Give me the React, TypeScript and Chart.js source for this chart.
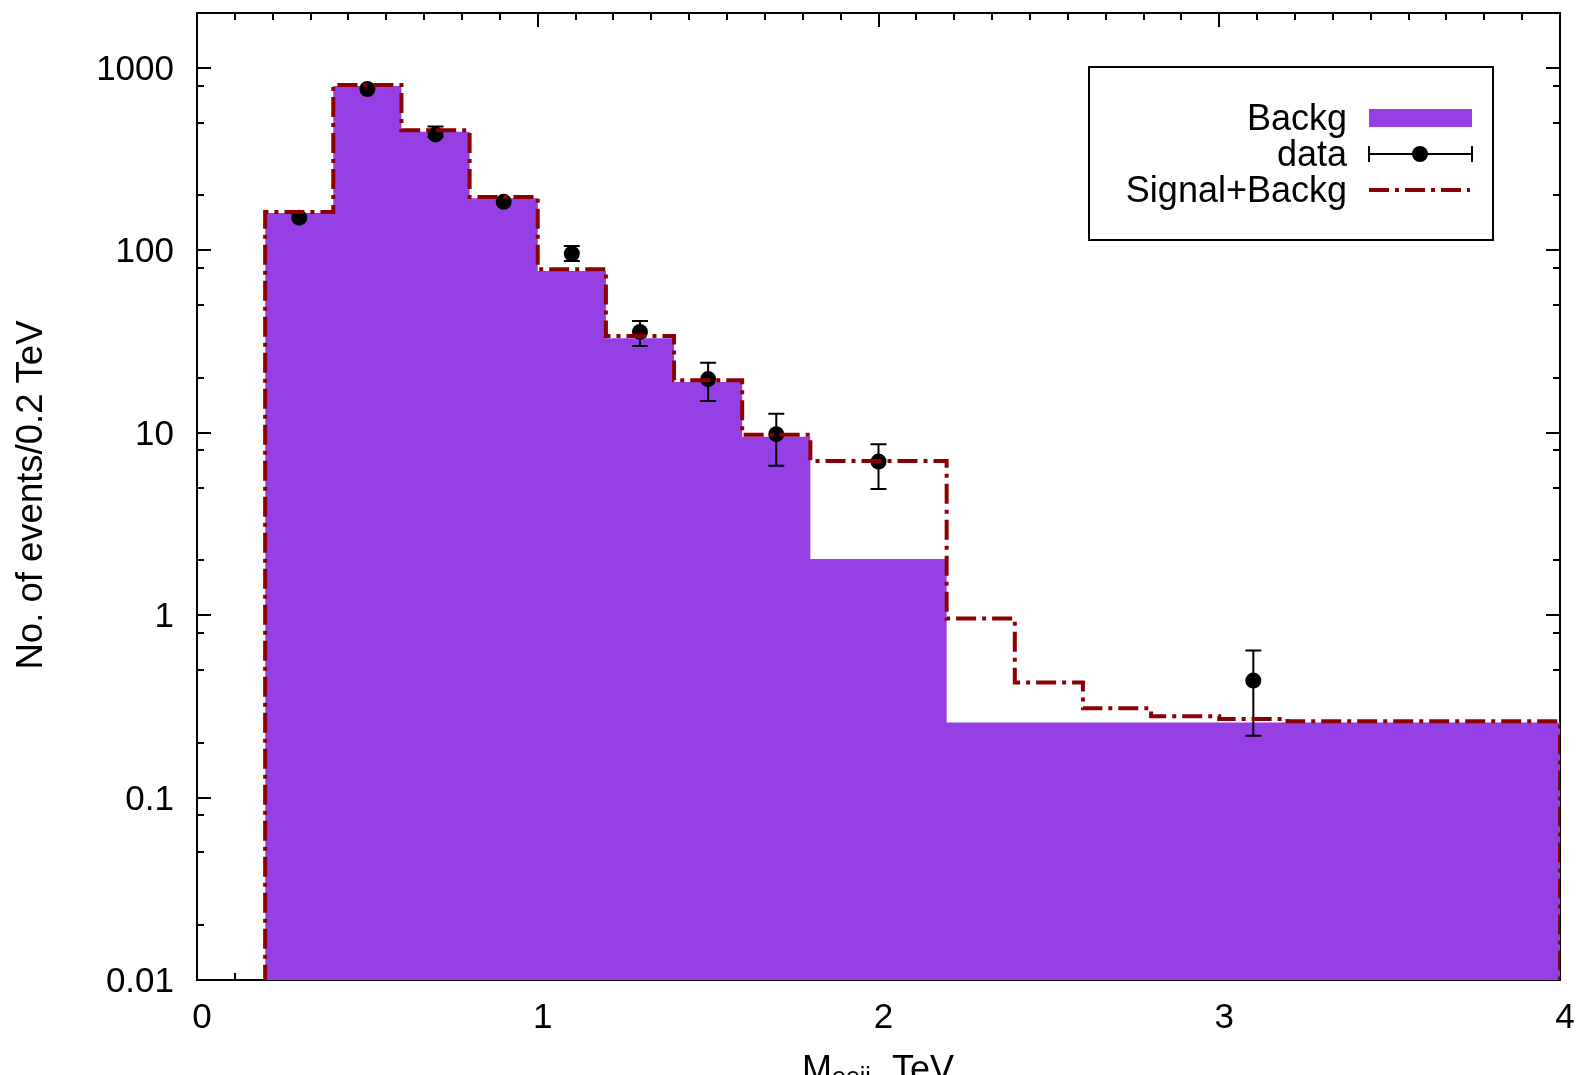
import React, { useEffect, useRef } from "react";
import { Chart, registerables } from "chart.js";

Chart.register(...registerables);

// ---- data ----
const backgEdges = [0.2, 0.4, 0.6, 0.8, 1.0, 1.2, 1.4, 1.6, 1.8, 2.2, 4.0];
const backgValues = [160, 795, 447, 193, 77, 33, 19, 9.5, 2.03, 0.258];

const signalEdges = [0.2, 0.4, 0.6, 0.8, 1.0, 1.2, 1.4, 1.6, 1.8, 2.2, 2.4, 2.6, 2.8, 3.0, 3.2, 4.0];
const signalValues = [162, 805, 455, 196, 78.7, 33.9, 19.4, 9.74, 7.0, 0.96, 0.428, 0.309, 0.279, 0.27, 0.262];

const dataX = [0.3, 0.5, 0.7, 0.9, 1.1, 1.3, 1.5, 1.7, 2.0, 3.1];
const dataY = [151, 766, 432, 184.5, 95.8, 35.7, 19.7, 9.82, 6.95, 0.438];
const dataLow = [151, 766, 420, 184.5, 87.3, 29.9, 14.95, 6.59, 4.91, 0.218];
const dataHigh = [151, 766, 478, 184.5, 105.6, 41, 24.2, 12.7, 8.66, 0.641];

const xTickValues = [0, 1, 2, 3, 4];
const xTickLabels = ["0", "1", "2", "3", "4"];
const yTickValues = [1000, 100, 10, 1, 0.1, 0.01];
const yTickLabels = ["1000", "100", "10", "1", "0.1", "0.01"];
const yMinorFactors = [2, 5, 8];

const legendLabels = ["Backg", "data", "Signal+Backg"];
const yTitle = "No. of events/0.2 TeV";

// ---- styles ----
const PURPLE = "rgb(148,64,229)";
const DARKRED = "#8b0000";
const DASH = [20, 6, 4, 6];
const FONT = "Liberation Sans, Arial, sans-serif";

function stepPoints(edges: number[], values: number[], closeToBottom: boolean) {
  const pts: { x: number; y: number }[] = [];
  if (closeToBottom) pts.push({ x: edges[0], y: 1e-4 });
  values.forEach((v, i) => pts.push({ x: edges[i], y: v }));
  pts.push({ x: edges[edges.length - 1], y: values[values.length - 1] });
  if (closeToBottom) pts.push({ x: edges[edges.length - 1], y: 1e-4 });
  return pts;
}

const decorPlugin = {
  id: "decor",
  beforeDatasetsDraw(chart: any) {
    const { ctx, chartArea: a, scales } = chart;
    const x = scales.x;
    const y = scales.y;
    ctx.save();
    ctx.strokeStyle = "#000";
    ctx.lineWidth = 2;
    const major = 14;
    const minor = 7;
    ctx.beginPath();
    for (let u = 0; u < 4; u++) {
      for (let k = 0; k <= 9; k++) {
        const v = u + k / 9;
        if (v > 4) continue;
        const px = Math.round(x.getPixelForValue(v));
        const len = k === 0 || k === 9 ? major : minor;
        ctx.moveTo(px, a.bottom);
        ctx.lineTo(px, a.bottom - len);
        ctx.moveTo(px, a.top);
        ctx.lineTo(px, a.top + len);
      }
    }
    for (let e = -2; e <= 3; e++) {
      const base = Math.pow(10, e);
      const py = Math.round(y.getPixelForValue(base));
      ctx.moveTo(a.left, py);
      ctx.lineTo(a.left + major, py);
      ctx.moveTo(a.right, py);
      ctx.lineTo(a.right - major, py);
      for (const f of yMinorFactors) {
        const v = base * f;
        if (v > 2000) continue;
        const pm = Math.round(y.getPixelForValue(v));
        ctx.moveTo(a.left, pm);
        ctx.lineTo(a.left + minor, pm);
        ctx.moveTo(a.right, pm);
        ctx.lineTo(a.right - minor, pm);
      }
    }
    ctx.stroke();
    ctx.strokeRect(a.left, a.top, a.right - a.left, a.bottom - a.top);
    ctx.restore();
  },
  afterDatasetDraw(chart: any, args: any) {
    if (args.index !== 1) return;
    const { ctx, scales } = chart;
    const x = scales.x;
    const y = scales.y;
    ctx.save();
    ctx.strokeStyle = "#000";
    ctx.lineWidth = 2;
    ctx.beginPath();
    dataX.forEach((xv, i) => {
      if (dataLow[i] === dataHigh[i]) return;
      const px = x.getPixelForValue(xv);
      const ylo = y.getPixelForValue(dataLow[i]);
      const yhi = y.getPixelForValue(dataHigh[i]);
      ctx.moveTo(px, ylo);
      ctx.lineTo(px, yhi);
      ctx.moveTo(px - 8, ylo);
      ctx.lineTo(px + 8, ylo);
      ctx.moveTo(px - 8, yhi);
      ctx.lineTo(px + 8, yhi);
    });
    ctx.stroke();
    ctx.restore();
  },
  afterDraw(chart: any) {
    const { ctx, scales } = chart;
    const x = scales.x;
    const y = scales.y;
    ctx.save();
    ctx.fillStyle = "#000";
    ctx.font = `35px ${FONT}`;
    ctx.textAlign = "right";
    ctx.textBaseline = "alphabetic";
    yTickValues.forEach((v, i) => {
      ctx.fillText(yTickLabels[i], 174, y.getPixelForValue(v) + 12);
    });
    ctx.textAlign = "center";
    xTickValues.forEach((v, i) => {
      ctx.fillText(xTickLabels[i], x.getPixelForValue(v) + 5, 1028);
    });
    // x title
    ctx.textAlign = "left";
    ctx.font = `36px ${FONT}`;
    ctx.fillText("M", 802, 1081);
    ctx.font = `25px ${FONT}`;
    ctx.fillText("eejj", 832, 1085);
    ctx.font = `36px ${FONT}`;
    ctx.fillText("TeV", 892, 1081);
    // y title
    ctx.save();
    ctx.translate(42, 495);
    ctx.rotate(-Math.PI / 2);
    ctx.textAlign = "center";
    ctx.font = `36.5px ${FONT}`;
    ctx.fillText(yTitle, 0, 0);
    ctx.restore();

    // legend
    ctx.fillStyle = "#fff";
    ctx.fillRect(1089, 67, 404, 173);
    ctx.strokeStyle = "#000";
    ctx.lineWidth = 2;
    ctx.strokeRect(1089, 67, 404, 173);
    ctx.fillStyle = "#000";
    ctx.font = `36px ${FONT}`;
    ctx.textAlign = "right";
    const rows = [118, 154, 190];
    legendLabels.forEach((t, i) => ctx.fillText(t, 1347, rows[i] + 12));
    ctx.fillStyle = PURPLE;
    ctx.fillRect(1369, 109, 103, 18);
    ctx.strokeStyle = "#000";
    ctx.lineWidth = 2;
    ctx.beginPath();
    ctx.moveTo(1369, rows[1]);
    ctx.lineTo(1472, rows[1]);
    ctx.moveTo(1369, rows[1] - 8);
    ctx.lineTo(1369, rows[1] + 8);
    ctx.moveTo(1472, rows[1] - 8);
    ctx.lineTo(1472, rows[1] + 8);
    ctx.stroke();
    ctx.fillStyle = "#000";
    ctx.beginPath();
    ctx.arc(1420, rows[1], 8, 0, Math.PI * 2);
    ctx.fill();
    ctx.strokeStyle = DARKRED;
    ctx.lineWidth = 4;
    ctx.setLineDash(DASH);
    ctx.beginPath();
    ctx.moveTo(1369, rows[2]);
    ctx.lineTo(1470, rows[2]);
    ctx.stroke();
    ctx.restore();
  },
};

export default function App() {
  const ref = useRef<HTMLCanvasElement | null>(null);
  useEffect(() => {
    if (!ref.current) return;
    const chart = new Chart(ref.current, {
      type: "line",
      data: {
        datasets: [
          {
            label: "Backg",
            data: stepPoints(backgEdges, backgValues, false),
            stepped: "before",
            fill: "start",
            backgroundColor: PURPLE,
            borderWidth: 0,
            borderColor: PURPLE,
            pointRadius: 0,
            order: 3,
          },
          {
            label: "data",
            data: dataX.map((xv, i) => ({ x: xv, y: dataY[i] })),
            showLine: false,
            pointRadius: 8,
            pointBackgroundColor: "#000",
            pointBorderWidth: 0,
            pointBorderColor: "#000",
            order: 2,
          },
          {
            label: "Signal+Backg",
            data: stepPoints(signalEdges, signalValues, true),
            stepped: "before",
            fill: false,
            borderColor: DARKRED,
            borderWidth: 4,
            borderDash: DASH,
            borderCapStyle: "butt",
            borderJoinStyle: "miter",
            pointRadius: 0,
            order: 1,
          },
        ],
      },
      options: {
        responsive: false,
        animation: false,
        devicePixelRatio: 1,
        layout: { padding: { left: 197, right: 17, top: 13, bottom: 95 } },
        plugins: { legend: { display: false }, title: { display: false }, tooltip: { enabled: false } },
        scales: {
          x: { type: "linear", min: 0, max: 4, display: false },
          y: { type: "logarithmic", min: 0.01, max: 2000, display: false },
        },
      },
      plugins: [decorPlugin],
    } as any);
    return () => chart.destroy();
  }, []);
  return (
    <div style={{ position: "fixed", left: 0, top: 0, width: 1577, height: 1075, background: "#fff" }}>
      <canvas ref={ref} width={1577} height={1075} style={{ display: "block" }} />
    </div>
  );
}
